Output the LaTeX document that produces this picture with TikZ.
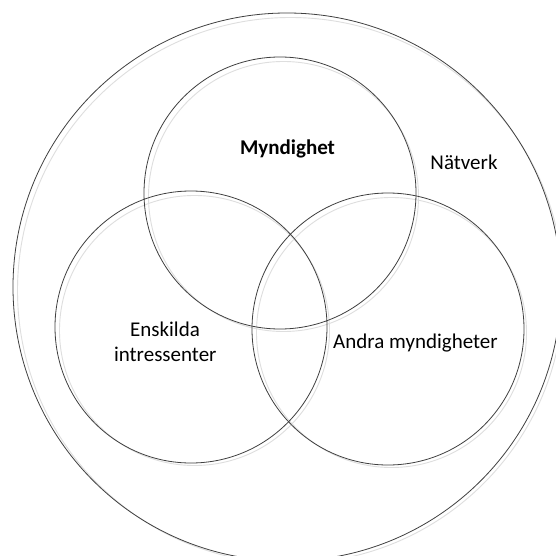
\documentclass[tikz,border=0pt]{standalone}
\usepackage{fontspec}
\setmainfont{Carlito}
\begin{document}
\begin{tikzpicture}[x=1pt,y=-1pt,
  ring/.style={draw=black!75,line width=0.8pt},
  shade/.style={draw=black!13,line width=0.9pt},
  lbl/.style={inner sep=0pt,anchor=base,font=\fontsize{21}{25}\selectfont,text=black}]
\useasboundingbox (0,0) rectangle (556,556);
\clip (0,0) rectangle (556,556);
\fill[white] (0,0) rectangle (556,556);
\coordinate (cout) at (287,287);
\coordinate (ctop) at (280,193);
\coordinate (cleft) at (191,327);
\coordinate (cright) at (388,329);
% faint shadows
\foreach \c/\r in {cout/274,ctop/136,cleft/136,cright/136}{
  \draw[shade] ([shift={(3.5,3.5)}]\c) circle[radius=\r pt-1pt];
}
\draw[ring] (cout) circle[radius=274pt];
\draw[ring] (ctop) circle[radius=136pt];
\draw[ring] (cleft) circle[radius=136pt];
\draw[ring] (cright) circle[radius=136pt];
\node[lbl,font=\fontsize{21}{25}\selectfont\bfseries] (myn) at (287.5,155) {Myndighet};
\node[lbl] (nat) at (464,169.5) {Nätverk};
\node[lbl] (ens1) at (165,336.7) {Enskilda};
\node[lbl] (ens2) at (165.3,361.7) {intressenter};
\node[lbl] (andra) at (415.5,348.3) {Andra myndigheter};
\end{tikzpicture}
\end{document}
